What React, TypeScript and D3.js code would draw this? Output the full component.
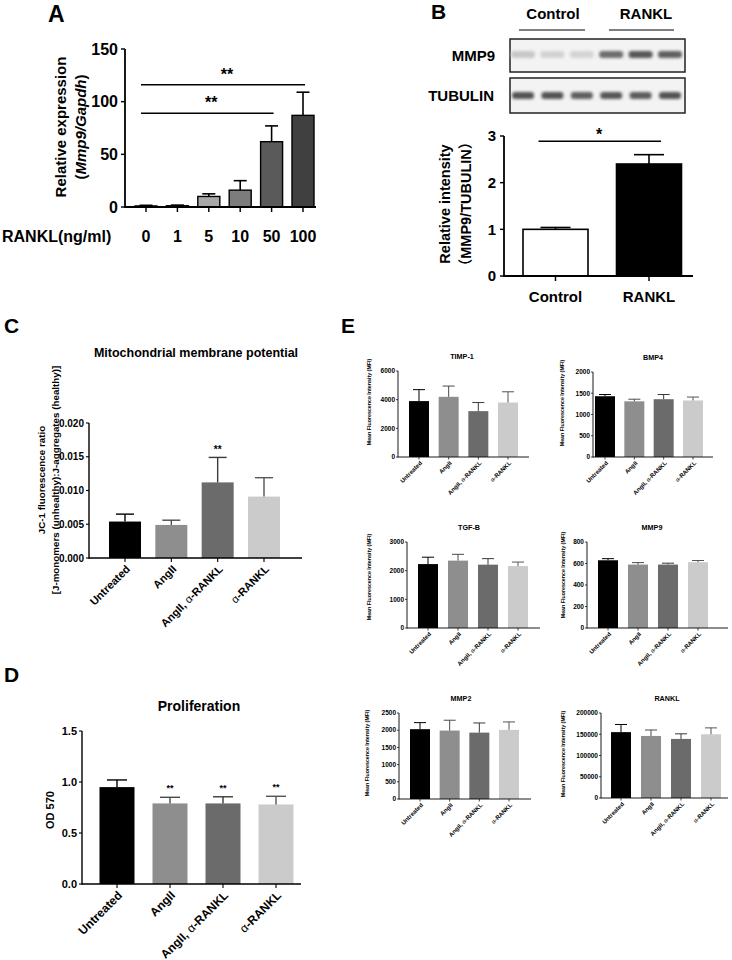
import React from "react";
import * as d3 from "d3";

const FONT = "'Liberation Sans', Arial, Helvetica, 'Noto Sans CJK SC', sans-serif";

// ---------- Panel A ----------
const aDoses = ["0", "1", "5", "10", "50", "100"];
const aMeans = [1, 1.2, 10, 16, 62, 87];
const aUpper = [1.6, 1.8, 12.5, 25, 77, 109];
const aFills = ["#ffffff", "#e6e6e6", "#a8a8a8", "#7c7c7c", "#5a5a5a", "#404040"];
const aTicks = [0, 50, 100, 150];
const aSig = [
  { from: "0", to: "100", level: 116, label: "**" },
  { from: "0", to: "50", level: 89, label: "**" },
];

// ---------- Panel B ----------
const bGroups = ["Control", "RANKL"];
const bMeans = [1.0, 2.4];
const bUpper = [1.04, 2.6];
const bFills = ["#ffffff", "#000000"];
const bTicks = [0, 1, 2, 3];
const bSigLevel = 2.89;
const blotLanes = ["C1", "C2", "C3", "R1", "R2", "R3"];
const blotMMP9 = [0.2, 0.15, 0.14, 0.62, 0.72, 0.68];
const blotTubulin = [0.74, 0.74, 0.68, 0.72, 0.7, 0.74];

// ---------- Panels C, D, E ----------
const treatments = ["Untreated", "AngII", "AngII, α-RANKL", "α-RANKL"];
const treatFills = ["#000000", "#8e8e8e", "#6b6b6b", "#cbcbcb"];
const treatErr = ["#000000", "#4a4a4a", "#3a3a3a", "#555555"];

const cMeans = [0.0054, 0.0049, 0.0112, 0.0091];
const cUpper = [0.0065, 0.0056, 0.0149, 0.0119];
const cTicks = [0, 0.005, 0.01, 0.015, 0.02];
const cStars = ["", "", "**", ""];

const dMeans = [0.95, 0.79, 0.79, 0.78];
const dUpper = [1.02, 0.85, 0.855, 0.86];
const dTicks = [0, 0.5, 1.0, 1.5];
const dStars = ["", "**", "**", "**"];

const eTimp1Means = [3900, 4200, 3200, 3800];
const eTimp1Upper = [4700, 4950, 3800, 4550];
const eTimp1Ticks = [0, 2000, 4000, 6000];

const eBmp4Means = [1430, 1310, 1360, 1330];
const eBmp4Upper = [1470, 1360, 1470, 1410];
const eBmp4Ticks = [0, 500, 1000, 1500, 2000];

const eTgfbMeans = [2230, 2350, 2210, 2160];
const eTgfbUpper = [2470, 2570, 2420, 2300];
const eTgfbTicks = [0, 1000, 2000, 3000];

const eMmp9Means = [630, 590, 590, 612];
const eMmp9Upper = [645, 608, 603, 628];
const eMmp9Ticks = [0, 200, 400, 600, 800];

const eMmp2Means = [2030, 1990, 1930, 2010];
const eMmp2Upper = [2220, 2290, 2210, 2240];
const eMmp2Ticks = [0, 500, 1000, 1500, 2000, 2500];

const eRanklMeans = [155000, 146000, 139000, 150000];
const eRanklUpper = [173000, 160000, 151000, 165000];
const eRanklTicks = [0, 50000, 100000, 150000, 200000];

type Layout = {
  ax0: number; ax1: number; c0: number; c1: number; bw: number;
  y0: number; y1: number; ymax: number;
  ticks: number[]; fmt: (v: number) => string; tickFs: number; tickLen: number;
  axisW: number; capW: number; xTickLen: number; errW: number;
  barStroke?: string; barStrokeW?: number; labelGap: number; axisTop?: number;
};

function scales(cats: string[], L: Layout) {
  const sx = d3.scalePoint<string>().domain(cats).range([L.c0, L.c1]);
  const sy = d3.scaleLinear().domain([0, L.ymax]).range([L.y0, L.y1]);
  return { sx, sy };
}

function BarChart({ cats, means, upper, fills, errColors, L }: any) {
  const { sx, sy } = scales(cats, L);
  const topY = L.axisTop !== undefined ? L.axisTop : sy(L.ymax);
  return (
    <g>
      {cats.map((c: string, i: number) => {
        const cx = sx(c)!;
        const top = sy(means[i]);
        const up = sy(upper[i]);
        return (
          <g key={c}>
            <rect x={cx - L.bw / 2} y={top} width={L.bw} height={L.y0 - top}
              fill={fills[i]} stroke={L.barStroke || "none"} strokeWidth={L.barStrokeW || 0} />
            <line x1={cx} x2={cx} y1={top} y2={up} stroke={errColors[i]} strokeWidth={L.errW} />
            <line x1={cx - L.capW / 2} x2={cx + L.capW / 2} y1={up} y2={up} stroke={errColors[i]} strokeWidth={L.errW} />
          </g>
        );
      })}
      <line x1={L.ax0} x2={L.ax0} y1={topY} y2={L.y0 + L.axisW / 2} stroke="#000" strokeWidth={L.axisW} />
      <line x1={L.ax0} x2={L.ax1} y1={L.y0} y2={L.y0} stroke="#000" strokeWidth={L.axisW} />
      {L.ticks.map((t: number) => (
        <g key={t}>
          <line x1={L.ax0 - L.tickLen} x2={L.ax0} y1={sy(t)} y2={sy(t)} stroke="#000" strokeWidth={L.axisW * 0.8} />
          <text x={L.ax0 - L.tickLen - L.labelGap} y={sy(t)} dy="0.35em" textAnchor="end"
            fontSize={L.tickFs} fontWeight="bold">{L.fmt(t)}</text>
        </g>
      ))}
      {cats.map((c: string) => (
        <line key={"xt" + c} x1={sx(c)} x2={sx(c)} y1={L.y0} y2={L.y0 + L.xTickLen} stroke="#000" strokeWidth={L.axisW * 0.8} />
      ))}
    </g>
  );
}

function alphaText(s: string) {
  const parts = s.split("α");
  if (parts.length === 1) return s;
  return (
    <>
      {parts[0]}
      <tspan fontWeight="normal">α</tspan>
      {parts[1]}
    </>
  );
}

function RotLabels({ cats, L, fs, dx, dy }: any) {
  const { sx } = scales(cats, L);
  return (
    <g>
      {cats.map((c: string) => (
        <text key={c} transform={`translate(${sx(c)! + dx},${L.y0 + dy}) rotate(-45)`}
          textAnchor="end" dy="0.35em" fontSize={fs} fontWeight="bold">{alphaText(c)}</text>
      ))}
    </g>
  );
}

function Stars({ cats, upper, stars, L, fs, gap }: any) {
  const { sx, sy } = scales(cats, L);
  return (
    <g>
      {cats.map((c: string, i: number) => stars[i] ? (
        <text key={c} x={sx(c)} y={sy(upper[i]) - gap} textAnchor="middle" fontSize={fs} fontWeight="bold">{stars[i]}</text>
      ) : null)}
    </g>
  );
}

function VLabel({ x, y, fs, children, weight = "bold" }: any) {
  return (
    <text transform={`translate(${x},${y}) rotate(-90)`} textAnchor="middle" dy="0.35em"
      fontSize={fs} fontWeight={weight}>{children}</text>
  );
}

// ---------- Panel A ----------
function PanelA() {
  const L: Layout = {
    ax0: 125, ax1: 316, c0: 146, c1: 303, bw: 22, y0: 207, y1: 49, ymax: 150,
    ticks: aTicks, fmt: d3.format("d"), tickFs: 16, tickLen: 4, axisW: 1.8, capW: 13,
    xTickLen: 5, errW: 1.6, barStroke: "#000", barStrokeW: 1.4, labelGap: 3,
  };
  const { sx, sy } = scales(aDoses, L);
  return (
    <g>
      <text x={48} y={22} fontSize={23} fontWeight="bold">A</text>
      <BarChart cats={aDoses} means={aMeans} upper={aUpper} fills={aFills}
        errColors={aDoses.map(() => "#000")} L={L} />
      {aSig.map((s, i) => {
        const x1 = sx(s.from)! - 5;
        const x2 = sx(s.to)! + 2;
        const y = sy(s.level);
        return (
          <g key={i}>
            <line x1={x1} x2={x2} y1={y} y2={y} stroke="#000" strokeWidth={1.5} />
            <text x={(x1 + x2) / 2 + 4} y={y - 5} textAnchor="middle" fontSize={16} fontWeight="bold">{s.label}</text>
          </g>
        );
      })}
      <VLabel x={61} y={127} fs={15}>Relative expression</VLabel>
      <VLabel x={81} y={127} fs={15}>(<tspan fontStyle="italic">Mmp9/Gapdh</tspan>)</VLabel>
      <text x={2} y={242} fontSize={16} fontWeight="bold">RANKL(ng/ml)</text>
      {aDoses.map((d) => (
        <text key={d} x={sx(d)} y={242} textAnchor="middle" fontSize={16} fontWeight="bold">{d}</text>
      ))}
    </g>
  );
}

// ---------- Panel B ----------
function PanelB() {
  const L: Layout = {
    ax0: 504, ax1: 693, c0: 555.5, c1: 649, bw: 65, y0: 276, y1: 136, ymax: 3,
    ticks: bTicks, fmt: d3.format("d"), tickFs: 15, tickLen: 4, axisW: 1.8, capW: 30,
    xTickLen: 5, errW: 1.6, barStroke: "#000", barStrokeW: 1.6, labelGap: 4,
  };
  const { sx, sy } = scales(bGroups, L);
  const lane = d3.scalePoint<string>().domain(blotLanes).range([523, 670]);
  const gray = d3.interpolateRgb("#f2f2f2", "#1a1a1a");
  const sigY = sy(bSigLevel);
  return (
    <g>
      <defs>
        <filter id="blur" x="-50%" y="-100%" width="200%" height="300%">
          <feGaussianBlur stdDeviation="1.6" />
        </filter>
      </defs>
      <text x={431} y={19} fontSize={21} fontWeight="bold">B</text>
      <text x={553} y={19} textAnchor="middle" fontSize={15} fontWeight="bold">Control</text>
      <text x={646} y={19} textAnchor="middle" fontSize={15} fontWeight="bold">RANKL</text>
      <line x1={519} x2={585} y1={30} y2={30} stroke="#000" strokeWidth={1.2} />
      <line x1={609} x2={674} y1={30} y2={30} stroke="#000" strokeWidth={1.2} />
      <text x={495} y={61} textAnchor="end" fontSize={15} fontWeight="bold">MMP9</text>
      <text x={494} y={101} textAnchor="end" fontSize={15} fontWeight="bold">TUBULIN</text>
      <rect x={510} y={39} width={175} height={33} fill="#f3f3f3" stroke="#222" strokeWidth={1.5} />
      <rect x={510} y={78} width={175} height={35} fill="#f3f3f3" stroke="#222" strokeWidth={1.5} />
      {blotLanes.map((l, i) => (
        <g key={l} filter="url(#blur)">
          <rect x={lane(l)! - 12} y={51} width={24} height={7} rx={3} fill={gray(blotMMP9[i])} />
          <rect x={lane(l)! - 11} y={92} width={22} height={7} rx={3} fill={gray(blotTubulin[i])} />
        </g>
      ))}
      <BarChart cats={bGroups} means={bMeans} upper={bUpper} fills={bFills}
        errColors={["#000", "#000"]} L={L} />
      <line x1={sx("Control")! - 17} x2={sx("RANKL")! + 12} y1={sigY} y2={sigY} stroke="#000" strokeWidth={1.5} />
      <text x={599} y={sigY - 1} textAnchor="middle" fontSize={16} fontWeight="bold">*</text>
      <VLabel x={445} y={204} fs={14.5}>Relative intensity</VLabel>
      <VLabel x={466} y={204} fs={14.5}>（MMP9/TUBULIN）</VLabel>
      {bGroups.map((g) => (
        <text key={g} x={sx(g)} y={302} textAnchor="middle" fontSize={15} fontWeight="bold">{g}</text>
      ))}
    </g>
  );
}

// ---------- Panel C ----------
function PanelC() {
  const L: Layout = {
    ax0: 89, ax1: 302, c0: 125, c1: 264, bw: 32, y0: 558, y1: 423, ymax: 0.02,
    ticks: cTicks, fmt: d3.format(".3f"), tickFs: 10, tickLen: 3, axisW: 1.4, capW: 18,
    xTickLen: 4, errW: 1.4, labelGap: 2,
  };
  return (
    <g>
      <text x={4} y={333} fontSize={21} fontWeight="bold">C</text>
      <text x={196} y={357} textAnchor="middle" fontSize={12.5} fontWeight="bold">Mitochondrial membrane potential</text>
      <BarChart cats={treatments} means={cMeans} upper={cUpper} fills={treatFills} errColors={treatErr} L={L} />
      <Stars cats={treatments} upper={cUpper} stars={cStars} L={L} fs={10} gap={4} />
      <VLabel x={42} y={480} fs={9.8}>JC-1 fluorescence ratio</VLabel>
      <VLabel x={56} y={480} fs={9.8}>[J-monomers (unhealthy):J-aggregates (healthy)]</VLabel>
      <RotLabels cats={treatments} L={L} fs={11} dx={3} dy={9} />
    </g>
  );
}

// ---------- Panel D ----------
function PanelD() {
  const L: Layout = {
    ax0: 82, ax1: 301, c0: 117, c1: 276, bw: 35, y0: 884, y1: 731, ymax: 1.5,
    ticks: dTicks, fmt: d3.format(".1f"), tickFs: 11, tickLen: 3, axisW: 1.4, capW: 20,
    xTickLen: 4, errW: 1.4, labelGap: 2,
  };
  return (
    <g>
      <text x={4} y={682} fontSize={21} fontWeight="bold">D</text>
      <text x={199} y={711} textAnchor="middle" fontSize={14} fontWeight="bold">Proliferation</text>
      <BarChart cats={treatments} means={dMeans} upper={dUpper} fills={treatFills} errColors={treatErr} L={L} />
      <Stars cats={treatments} upper={dUpper} stars={dStars} L={L} fs={9} gap={6} />
      <VLabel x={50} y={810} fs={11}>OD 570</VLabel>
      <RotLabels cats={treatments} L={L} fs={12} dx={3} dy={9} />
    </g>
  );
}

// ---------- Panel E ----------
function SmallPanel({ title, means, upper, ticks, ymax, ax0, ax1, c0, c1, y0, y1, titleX, labelX, labelY }: any) {
  const L: Layout = {
    ax0, ax1, c0, c1, bw: 20, y0, y1, ymax,
    ticks, fmt: d3.format("d"), tickFs: 6.5, tickLen: 2, axisW: 0.9, capW: 12,
    xTickLen: 2.5, errW: 1, labelGap: 1,
  };
  return (
    <g>
      <text x={titleX} y={y1 - 12} textAnchor="middle" fontSize={7.2} fontWeight="bold">{title}</text>
      <BarChart cats={treatments} means={means} upper={upper} fills={treatFills} errColors={treatErr} L={L} />
      <VLabel x={labelX} y={labelY} fs={5.3}>Mean Fluorescence Intensity (MFI)</VLabel>
      <RotLabels cats={treatments} L={L} fs={6} dx={2} dy={5} />
    </g>
  );
}

function PanelE() {
  return (
    <g>
      <text x={341} y={333} fontSize={21} fontWeight="bold">E</text>
      <SmallPanel title="TIMP-1" means={eTimp1Means} upper={eTimp1Upper} ticks={eTimp1Ticks} ymax={6000}
        ax0={398} ax1={529} c0={419} c1={508} y0={457} y1={371} titleX={462} labelX={369} labelY={402} />
      <SmallPanel title="BMP4" means={eBmp4Means} upper={eBmp4Upper} ticks={eBmp4Ticks} ymax={2000}
        ax0={593} ax1={713} c0={605} c1={693} y0={457} y1={372} titleX={653} labelX={562} labelY={403} />
      <SmallPanel title="TGF-B" means={eTgfbMeans} upper={eTgfbUpper} ticks={eTgfbTicks} ymax={3000}
        ax0={407} ax1={540} c0={428} c1={518} y0={628} y1={542} titleX={469} labelX={369} labelY={577} />
      <SmallPanel title="MMP9" means={eMmp9Means} upper={eMmp9Upper} ticks={eMmp9Ticks} ymax={800}
        ax0={587} ax1={728} c0={608} c1={698} y0={628} y1={542} titleX={652} labelX={563} labelY={575} />
      <SmallPanel title="MMP2" means={eMmp2Means} upper={eMmp2Upper} ticks={eMmp2Ticks} ymax={2500}
        ax0={399} ax1={531} c0={420} c1={509} y0={799} y1={713} titleX={461} labelX={367} labelY={753} />
      <SmallPanel title="RANKL" means={eRanklMeans} upper={eRanklUpper} ticks={eRanklTicks} ymax={200000}
        ax0={601} ax1={728} c0={621} c1={711} y0={798} y1={713} titleX={667} labelX={563} labelY={754} />
    </g>
  );
}

export default function App() {
  return (
    <svg width={732} height={960} style={{ position: "absolute", left: 0, top: 0, background: "#fff" }}
      fontFamily={FONT}>
      <rect width={732} height={960} fill="#fff" />
      <PanelA />
      <PanelB />
      <PanelC />
      <PanelD />
      <PanelE />
    </svg>
  );
}
